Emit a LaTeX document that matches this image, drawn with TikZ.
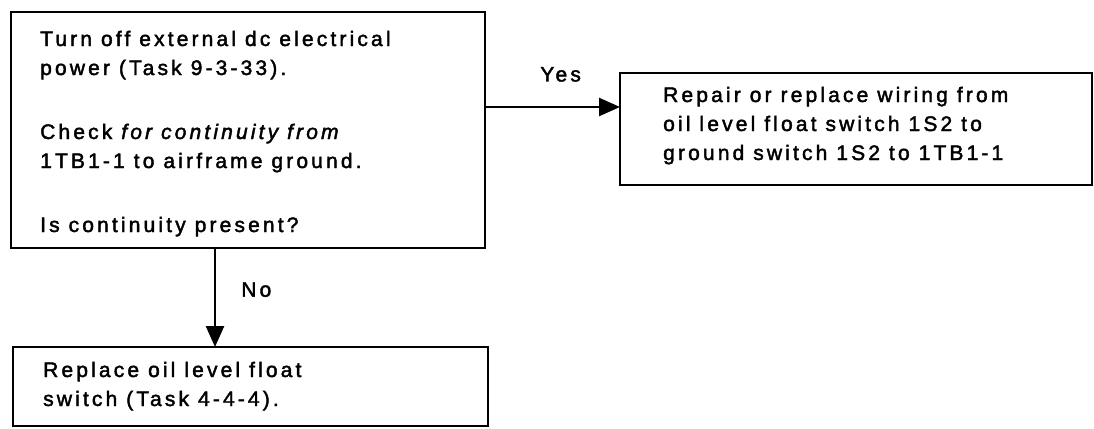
\documentclass[tikz,border=0pt]{standalone}
\usepackage{fontspec}
\newfontfamily\flowfont[LetterSpace=15, FakeBold=2]{Liberation Sans}
\usetikzlibrary{positioning}
\usetikzlibrary{arrows.meta}

\begin{document}
\begin{tikzpicture}[
    x=1pt, y=-1pt,
    every node/.style={font=\flowfont\fontsize{21}{29}\selectfont, inner sep=0pt},
    stepbox/.style={draw, line width=2.6pt, outer sep=0pt, rectangle, anchor=north west},
    boxtext/.style={anchor=base west, align=left}, % base = last line
    flow arrow/.style={line width=2.6pt, -{Triangle[length=21pt, width=18pt]}}
]
    \useasboundingbox (0,0) rectangle (1094,428);

    % Boxes
    \node[stepbox, minimum width=474pt, minimum height=236pt] (check) at (11,12) {};
    \node[stepbox, minimum width=472pt, minimum height=112pt] (repair) at (620,73) {};
    \node[stepbox, minimum width=475pt, minimum height=79pt] (float) at (13,347) {}; % cut off at the bottom

    % Texts
    \node[boxtext] (checktxt) at ([xshift=29pt, yshift=-220pt]check.north west)
        {Turn off external dc electrical\\ power (Task 9-3-33).\\[35pt]
         Check \textit{for continuity from}\\ 1TB1-1 to airframe ground.\\[35pt]
         Is continuity present?};
    \node[boxtext] (repairtxt) at ([xshift=43pt, yshift=-87pt]repair.north west)
        {Repair or replace wiring from\\ oil level float switch 1S2 to\\ ground switch 1S2 to 1TB1-1};
    \node[boxtext] (floattxt) at ([xshift=30pt, yshift=-59pt]float.north west)
        {Replace oil level float\\ switch (Task 4-4-4).};

    % Connectors
    \coordinate (yestip) at ([yshift=-34pt]repair.north west);
    \coordinate (notip) at ([xshift=202pt]float.north west);
    \draw[flow arrow] (check.east |- yestip) -- (yestip) node[pos=0.56, above=24pt] {Yes};
    \draw[flow arrow] (check.south -| notip) -- (notip) node[pos=0.42, right=25pt] {No};

\end{tikzpicture}
\end{document}
